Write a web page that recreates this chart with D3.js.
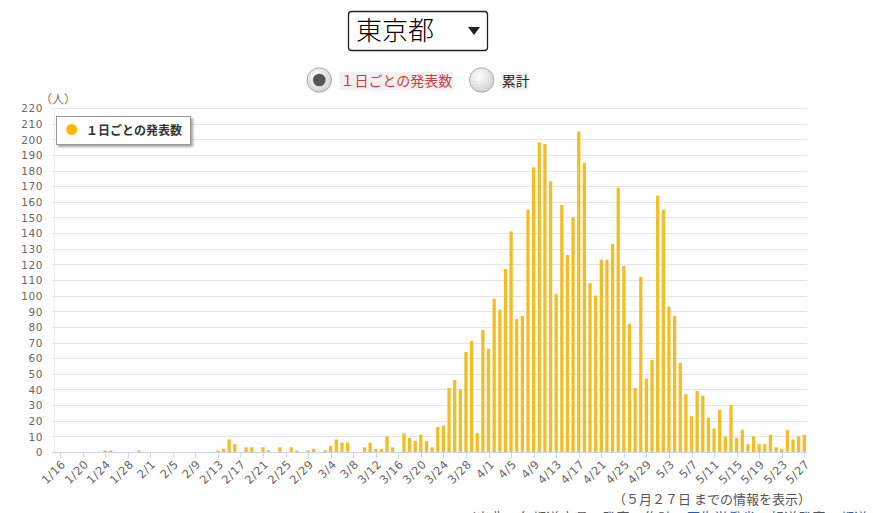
<!DOCTYPE html>
<html>
<head>
<meta charset="utf-8">
<script src="https://cdn.jsdelivr.net/npm/d3@7"></script>
<style>
  body { margin: 0; background: #fff; }
  svg { display: block; }
</style>
</head>
<body>
<div id="chart"></div>
<script>
// daily announced cases, Tokyo, 1/16 .. 5/27 (2020)
var janValues = [0,0,0,0,0,0,0,0,1,1,0,0,0,0,1,0];
var febValues = [0,0,0,0,0,0,0,0,0,0,0,0,1,2,8,5,0,3,3,0,3,1,0,3,0,3,1,0,1];
var marValues = [2,0,1,4,8,6,6,0,0,3,6,2,2,10,3,0,12,9,7,11,7,3,16,17,41,46,40,64,71,12,78];
var aprValues = [66,98,91,117,141,85,87,155,182,198,197,173,101,158,126,150,205,185,108,100,123,123,133,169,119,82,41,112,47,59];
var mayValues = [164,155,93,87,57,37,23,39,36,22,15,27,10,30,9,14,5,10,5,5,11,3,2,14,8,10,11];
var values = janValues.concat(febValues, marValues, aprValues, mayValues);

var dates = d3.timeDay.range(new Date(2020, 0, 16), new Date(2020, 4, 28));
var fmt = d3.timeFormat("%-m/%-d");
var categories = dates.map(function(d){ return fmt(d); });

var tickLabels = ["1/16","1/20","1/24","1/28","2/1","2/5","2/9","2/13","2/17","2/21","2/25","2/29",
  "3/4","3/8","3/12","3/16","3/20","3/24","3/28","4/1","4/5","4/9","4/13","4/17","4/21","4/25",
  "4/29","5/3","5/7","5/11","5/15","5/19","5/23","5/27"];
var yTicks = d3.range(0, 221, 10);

var seriesName = "１日ごとの発表数";
var prefName = "東京都";
var totalName = "累計";
var noteText = "（５月２７日 までの情報を表示）";

var chart = { width: 873, height: 513, left: 57.2, right: 807.1, top: 108, bottom: 452 };

var svg = d3.select("#chart").append("svg")
    .attr("width", chart.width)
    .attr("height", chart.height);

var defs = svg.append("defs");
var grad = defs.append("radialGradient").attr("id", "radioGrad")
    .attr("cx", "40%").attr("cy", "35%").attr("r", "70%");
grad.append("stop").attr("offset", "0%").attr("stop-color", "#ffffff");
grad.append("stop").attr("offset", "100%").attr("stop-color", "#cfcfcf");
var shadow = defs.append("filter").attr("id", "shadow")
    .attr("x", "-10%").attr("y", "-20%").attr("width", "130%").attr("height", "160%");
shadow.append("feDropShadow").attr("dx", 2).attr("dy", 2).attr("stdDeviation", 1.2)
    .attr("flood-color", "#000").attr("flood-opacity", 0.35);

// prefecture select box
svg.append("rect")
    .attr("x", 348.5).attr("y", 11.5).attr("width", 139).attr("height", 39).attr("rx", 3)
    .attr("fill", "#fff").attr("stroke", "#222").attr("stroke-width", 1.3);
svg.append("text")
    .attr("x", 356).attr("y", 40)
    .style("font-family", "'Noto Sans CJK JP', sans-serif")
    .style("font-size", "26px").style("font-weight", 300)
    .attr("fill", "#000")
    .text(prefName);
svg.append("path")
    .attr("d", "M468,27L480,27L474,35Z")
    .attr("fill", "#222");

// radio buttons
function radio(cx, label, lx, lw, checked, color) {
    svg.append("rect").attr("x", lx).attr("y", 72).attr("width", lw).attr("height", 18)
        .attr("fill", "#f1f1f1");
    svg.append("circle").attr("cx", cx).attr("cy", 80).attr("r", 12.2)
        .attr("fill", "url(#radioGrad)").attr("stroke", "#a9a9a9").attr("stroke-width", 1);
    if (checked) {
        svg.append("circle").attr("cx", cx).attr("cy", 80).attr("r", 6.3).attr("fill", "#555");
    }
    svg.append("text").attr("x", lx + 1).attr("y", 86)
        .style("font-family", "'Noto Sans CJK JP', sans-serif")
        .style("font-size", "14px")
        .attr("fill", color)
        .text(label);
}
radio(319.3, seriesName, 339.5, 114, true, "#d03a3a");
radio(481.7, totalName, 500.7, 27.5, false, "#222");

var x = d3.scaleBand()
    .domain(categories)
    .range([chart.left, chart.right])
    .paddingInner(0.41)
    .paddingOuter(0.2);
var step = (chart.right - chart.left) / categories.length;
function cx(c) { return chart.left + step * (categories.indexOf(c) + 0.5); }

var y = d3.scaleLinear()
    .domain([0, 220])
    .range([chart.bottom, chart.top]);

// grid
svg.append("g").selectAll("line")
    .data(yTicks.slice(1))
    .enter().append("line")
    .attr("x1", 52).attr("x2", chart.right)
    .attr("y1", function(d){ return Math.round(y(d)) + 0.5; })
    .attr("y2", function(d){ return Math.round(y(d)) + 0.5; })
    .attr("stroke", "#e4e4e4").attr("stroke-width", 1);

svg.append("line")
    .attr("x1", 54.5).attr("x2", 54.5).attr("y1", chart.top).attr("y2", chart.bottom)
    .attr("stroke", "#eeeeee");

// y labels
var yAxis = d3.axisLeft(y).tickValues(yTicks).tickSize(0).tickPadding(0);
var gy = svg.append("g").attr("transform", "translate(43,0)").call(yAxis);
gy.select(".domain").remove();
gy.selectAll("text")
    .style("font-family", "'DejaVu Sans', sans-serif")
    .style("font-size", "10.5px")
    .style("letter-spacing", "0.6px")
    .attr("fill", "#666")
    .attr("dy", "0.36em");

svg.append("text").attr("x", 46).attr("y", 104)
    .style("font-family", "'Noto Sans CJK JP', sans-serif")
    .style("font-size", "12px").attr("fill", "#777")
    .text("（人）").attr("dx", -6);

// bars
var bw = step * 0.58;
svg.append("g").selectAll("rect")
    .data(values)
    .enter().append("rect")
    .attr("x", function(d, i){ return cx(categories[i]) - bw / 2; })
    .attr("y", function(d){ return y(d); })
    .attr("width", bw)
    .attr("height", function(d){ return chart.bottom - y(d); })
    .attr("fill", "#f4bd22");

// x axis
svg.append("line")
    .attr("x1", 52).attr("x2", chart.right)
    .attr("y1", chart.bottom + 0.5).attr("y2", chart.bottom + 0.5)
    .attr("stroke", "#ccd6eb");
var gx = svg.append("g");
var tk = gx.selectAll("g.tick").data(tickLabels).enter().append("g")
    .attr("class", "tick")
    .attr("transform", function(d){ return "translate(" + (Math.round(cx(d)) + 0.5) + "," + chart.bottom + ")"; });
tk.append("line").attr("y1", 0).attr("y2", 6).attr("stroke", "#ccd6eb");
tk.append("text")
    .attr("transform", "translate(3,10) rotate(-45)")
    .attr("text-anchor", "end")
    .attr("dy", "0.35em")
    .style("font-family", "'DejaVu Sans', sans-serif")
    .style("font-size", "11.5px")
    .style("letter-spacing", "0.6px")
    .attr("fill", "#666")
    .text(function(d){ return d; });

// legend
var lg = svg.append("g");
lg.append("rect").attr("x", 56.5).attr("y", 116.5).attr("width", 134).attr("height", 28)
    .attr("fill", "#fff").attr("stroke", "#9a9a9a").attr("filter", "url(#shadow)");
lg.append("circle").attr("cx", 71.7).attr("cy", 129.5).attr("r", 5.5).attr("fill", "#ffb700");
lg.append("text").attr("x", 86).attr("y", 134.5)
    .style("font-family", "'Noto Sans CJK JP', sans-serif")
    .style("font-size", "12px").style("font-weight", 700)
    .attr("fill", "#333")
    .text(seriesName);

// note
svg.append("text").attr("x", 811).attr("y", 504)
    .attr("text-anchor", "end")
    .style("font-family", "'Noto Sans CJK JP', sans-serif")
    .style("font-size", "13px").attr("fill", "#555")
    .text(noteText);

// cut-off source line
var src = svg.append("text").attr("x", 462).attr("y", 523)
    .style("font-family", "'Noto Sans CJK JP', sans-serif")
    .style("font-size", "14px").attr("fill", "#555");
src.append("tspan").text("（出典：各都道府県の発表　集計：");
src.append("tspan").attr("fill", "#1a5fb4").text("厚生労働省");
src.append("tspan").text("　報道発表　");
src.append("tspan").attr("fill", "#1a5fb4").text("都道府県");
src.append("tspan").text("）");
</script>
</body>
</html>
